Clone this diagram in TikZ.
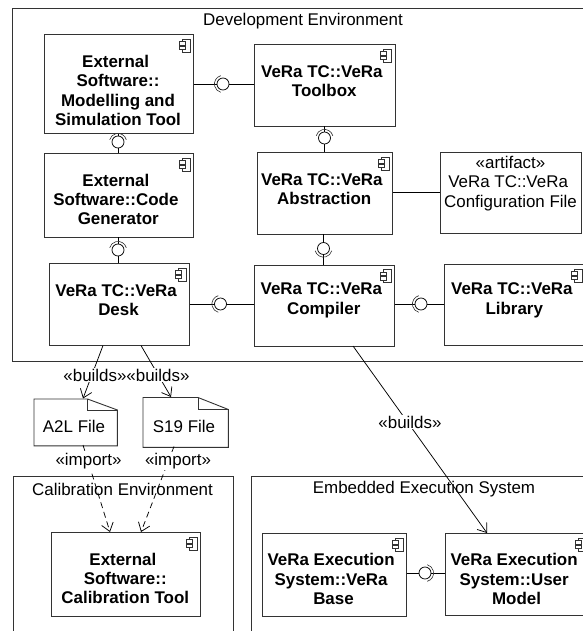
\documentclass[tikz,border=0pt]{standalone}
\usepackage{fontspec}
\setmainfont{Liberation Sans}
\usetikzlibrary{arrows.meta}
\definecolor{ln}{gray}{0.2}
\newcommand{\fs}{\fontsize{17}{19.5}\selectfont}
\newcommand{\tsp}{\kern0.278em\relax}
\tikzset{x=1bp,y=-1bp,
  envbox/.style={draw=ln,line width=0.9bp},
  box/.style={draw=ln,line width=0.9bp,fill=white,inner sep=0pt},
  boxtext/.style={font=\fs\bfseries,align=center,inner sep=0pt},
  plain/.style={font=\fs,align=center,inner sep=0pt},
  lbl/.style={font=\fs,inner sep=0.8bp,fill=white},
  conn/.style={draw=black,line width=0.75bp},
  dep/.style={conn,-{Straight Barb[length=8bp,width=12bp,line width=0.75bp]}},
  imp/.style={dep,dash pattern=on 6bp off 4bp},
  filebody/.style={draw=ln,line width=0.9bp,fill=white},
}
% \comp{name}{x1}{y1}{x2}{y2}{text x}{text y}{text}
\newcommand{\comp}[8]{%
  \node[box,anchor=north west,minimum width=#4bp-#2bp,minimum height=#5bp-#3bp] (#1) at (#2,#3) {};
  \node[boxtext] (#1-t) at (#6,#7) {#8};
  \draw[draw=ln,line width=0.7bp,fill=white]
    ([shift={(-12,5)}]#1.north east) rectangle ([shift={(-4,18)}]#1.north east);
  \draw[draw=ln,line width=0.7bp,fill=white]
    ([shift={(-15,7.5)}]#1.north east) rectangle ([shift={(-9,11)}]#1.north east);
  \draw[draw=ln,line width=0.7bp,fill=white]
    ([shift={(-15,12)}]#1.north east) rectangle ([shift={(-9,15.5)}]#1.north east);
}
% \ball{name}{x}{y}{start angle}{end angle}: required/provided symbol
\newcommand{\ball}[5]{%
  \node[circle,draw=black,line width=0.75bp,fill=white,minimum size=12bp,inner sep=0pt] (#1) at (#2,#3) {};
  \draw[line width=0.6bp,draw=ln] (#1.center) ++(#4:8.6bp) arc[start angle=#4,end angle=#5,radius=8.6bp];
}
\begin{document}
\begin{tikzpicture}
\useasboundingbox (0,0) rectangle (583,631);
\clip (0,0) rectangle (583,631);
% environments
\node[envbox,anchor=north west,minimum width=590bp,minimum height=353bp,inner sep=0pt] (dev) at (12,8) {};
\node[envbox,anchor=north west,minimum width=220bp,minimum height=170bp,inner sep=0pt] (cal) at (13,476) {};
\node[envbox,anchor=north west,minimum width=350bp,minimum height=170bp,inner sep=0pt] (emb) at (251,476) {};
\node[plain] (devt) at (303,21) {Development Environment};
\node[plain] (calt) at (122.5,489) {Calibration Environment};
\node[plain] (embt) at (424,489) {Embedded Execution System};
% components
\comp{model}{43.5}{34}{193}{133}{118}{90.5}{External\tsp\\Software::\\Modelling and\\Simulation Tool}
\comp{toolbox}{254}{44}{394.5}{125.5}{324.25}{81}{VeRa TC::VeRa\tsp\\Toolbox}
\comp{codegen}{43.5}{153}{193}{237}{118.25}{199.5}{External\tsp\\Software::Code\tsp\\Generator}
\comp{abstr}{256.5}{152}{392}{233.5}{324.25}{189}{VeRa TC::VeRa\tsp\\Abstraction}
\comp{desk}{48.5}{263}{189}{345}{118.5}{300}{VeRa TC::VeRa\tsp\\Desk}
\comp{compiler}{253.5}{264.5}{394}{346}{323.75}{300.5}{VeRa TC::VeRa\tsp\\Compiler}
\comp{library}{444}{264}{585}{345}{514.25}{300.5}{VeRa TC::VeRa\tsp\\Library}
\comp{caltool}{50.5}{532}{200}{616}{125.25}{578.5}{External\tsp\\Software::\\Calibration Tool}
\comp{base}{262}{533}{406}{616}{333.5}{579}{VeRa Execution\tsp\\System::VeRa\tsp\\Base}
\comp{user}{444.5}{533}{589}{615}{516.5}{579}{VeRa Execution\tsp\\System::User\tsp\\Model}
% artifact
\node[box,anchor=north west,minimum width=141bp,minimum height=81bp] (artifact) at (440,152) {};
\node[plain] (artifact-t) at (510.5,183.5) {«artifact»\\VeRa TC::VeRa\tsp\\Configuration File};
% files
\node[box,anchor=north west,minimum width=82.5bp,minimum height=46bp,draw=none,fill=none] (a2l) at (34,399) {};
\draw[filebody] (a2l.north west) -- (87.5,399) -- (a2l.east |- 0,410) -- (a2l.south east) -- (a2l.south west) -- cycle;
\draw[draw=ln,line width=0.9bp] (87.5,399) -- (87.5,410) -- (a2l.east |- 0,410);
\node[plain] (a2l-t) at (74,426) {A2L File};
\node[box,anchor=north west,minimum width=84.5bp,minimum height=49bp,draw=none,fill=none] (s19) at (143,397.5) {};
\draw[filebody] (s19.north west) -- (198,397.5) -- (s19.east |- 0,409.5) -- (s19.south east) -- (s19.south west) -- cycle;
\draw[draw=ln,line width=0.9bp] (198,397.5) -- (198,409.5) -- (s19.east |- 0,409.5);
\node[plain] (s19-t) at (184,426) {S19 File};
% interface connectors
\draw[conn] (model.east |- 0,84) -- (toolbox.west |- 0,84);
\draw[conn] (118,133) -- (118,153);
\draw[conn] (118,237) -- (118,263);
\draw[conn] (desk.east |- 0,304) -- (compiler.west |- 0,304);
\draw[conn] (toolbox.south -| 324.5,0) -- (abstr.north -| 324.5,0);
\draw[conn] (abstr.east |- 0,192.5) -- (artifact.west |- 0,192.5);
\draw[conn] (abstr.south -| 323.5,0) -- (compiler.north -| 323.5,0);
\draw[conn] (compiler.east |- 0,304) -- (library.west |- 0,304);
\draw[conn] (base.east |- 0,573) -- (user.west |- 0,573);
\ball{b1}{223}{84}{105}{255}
\ball{b2}{118}{142}{15}{165}
\ball{b3}{118}{250}{15}{165}
\ball{b4}{220.5}{304}{105}{255}
\ball{b5}{324.5}{138}{15}{165}
\ball{b6}{323.5}{248.5}{195}{345}
\ball{b7}{421}{304}{105}{255}
\ball{b8}{425}{573}{-75}{75}
% dependencies
\coordinate (d1) at (103,345.5);
\coordinate (d2) at (83,398.5);
\coordinate (d3) at (141,345.5);
\coordinate (d4) at (171,397);
\coordinate (d5) at (83,445);
\coordinate (d6) at (110,532);
\coordinate (d7) at (174,446.5);
\coordinate (d8) at (141,532);
\coordinate (d9) at (353,346);
\coordinate (d10) at (487,533);
\draw[dep] (d1) -- (d2);
\draw[dep] (d3) -- (d4);
\draw[imp] (d5) -- (d6);
\draw[imp] (d7) -- (d8);
\draw[dep] (d9) -- (d10);
\node[lbl] (l1) at (95,375) {«builds»};
\node[lbl] (l2) at (158,375) {«builds»};
\node[lbl] (l3) at (88.5,461) {«import»};
\node[lbl] (l4) at (178,461) {«import»};
\node[lbl] (l5) at (410,422) {«builds»};
\end{tikzpicture}
\end{document}
